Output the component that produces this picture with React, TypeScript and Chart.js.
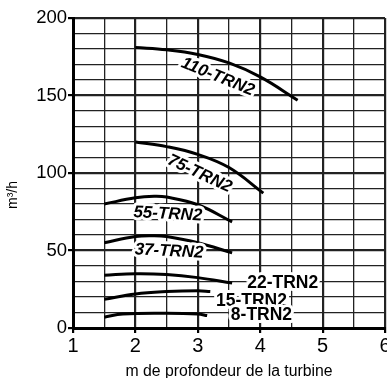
import { useEffect, useRef } from 'react';
import { Chart, registerables } from 'chart.js';

Chart.register(...registerables);

// ---- data ----
const xTickLabels = ['1', '2', '3', '4', '5', '6'];
const yTickLabels = ['0', '50', '100', '150', '200'];
const seriesNames = ['110-TRN2', '75-TRN2', '55-TRN2', '37-TRN2', '22-TRN2', '15-TRN2', '8-TRN2'];

const depth110 = [2, 2.5, 3, 3.5, 4, 4.6];
const flow110 = [181, 179.5, 176.5, 171, 162, 147];
const depth75 = [2, 2.5, 3, 3.5, 4.05];
const flow75 = [120, 117, 112, 103.5, 87];
const depth55 = [1.5, 2, 2.3, 2.5, 3, 3.55];
const flow55 = [80, 84, 85, 84.5, 79.5, 68.5];
const depth37 = [1.5, 2, 2.3, 2.5, 3, 3.55];
const flow37 = [55, 59, 59.5, 59, 55, 48.5];
const depth22 = [1.5, 2, 2.5, 3, 3.55];
const flow22 = [34, 35, 34.5, 32.5, 29];
const depth15 = [1.5, 2, 2.5, 3, 3.2];
const flow15 = [18.5, 22, 23.5, 24, 23.5];
const depth8 = [1.5, 1.8, 2.5, 3, 3.15];
const flow8 = [7, 9, 9.5, 9, 8];

const allDepths = [depth110, depth75, depth55, depth37, depth22, depth15, depth8];
const allFlows = [flow110, flow75, flow55, flow37, flow22, flow15, flow8];

// ---- label placement (data units) ----
const labelPlacement = [
  { x: 3.32, y: 162, angle: 22, italic: true },
  { x: 3.03, y: 99.5, angle: 25, italic: true },
  { x: 2.52, y: 73.5, angle: 3, italic: true },
  { x: 2.54, y: 49.5, angle: 3, italic: true },
  { x: 4.36, y: 29, angle: 0, italic: false },
  { x: 3.86, y: 17.4, angle: 0, italic: false },
  { x: 4.02, y: 8.4, angle: 0, italic: false },
];

const FONT = '"Liberation Sans", Arial, sans-serif';

const labelPlugin = {
  id: 'curveLabels',
  afterDatasetsDraw(chart: any) {
    const { ctx, scales } = chart;
    const xs = scales.x;
    const ys = scales.y;
    seriesNames.forEach((name, i) => {
      const p = labelPlacement[i];
      const px = xs.getPixelForValue(p.x);
      const py = ys.getPixelForValue(p.y);
      ctx.save();
      ctx.translate(px, py);
      ctx.rotate((p.angle * Math.PI) / 180);
      ctx.font = `${p.italic ? 'italic ' : ''}bold ${p.italic ? 17 : 17.5}px ${FONT}`;
      ctx.textAlign = 'center';
      ctx.textBaseline = 'middle';
      ctx.lineJoin = 'round';
      ctx.lineWidth = 6;
      ctx.strokeStyle = '#fff';
      ctx.strokeText(name, 0, 0);
      ctx.fillStyle = '#000';
      ctx.fillText(name, 0, 0);
      ctx.restore();
    });
  },
  afterDraw(chart: any) {
    const { ctx, chartArea } = chart;
    ctx.save();
    ctx.translate(13, (chartArea.top + chartArea.bottom) / 2 + 22);
    ctx.rotate(-Math.PI / 2);
    ctx.font = `14px ${FONT}`;
    ctx.textAlign = 'center';
    ctx.textBaseline = 'middle';
    ctx.fillStyle = '#000';
    ctx.fillText('m³/h', 0, 0);
    ctx.restore();
  },
};

export default function App() {
  const ref = useRef<HTMLCanvasElement>(null);
  useEffect(() => {
    document.body.style.margin = '0';
    const canvas = ref.current;
    if (!canvas) return;
    const datasets = seriesNames.map((name, i) => ({
      label: name,
      data: allDepths[i].map((d, j) => ({ x: d, y: allFlows[i][j] })),
      borderColor: '#000',
      borderWidth: 3,
      pointRadius: 0,
      tension: 0.4,
      fill: false,
    }));
    const isMajorX = (v: number) => Number.isInteger(v);
    const isMajorY = (v: number) => v % 50 === 0;
    const chart = new Chart(canvas, {
      type: 'line',
      data: { datasets },
      plugins: [labelPlugin],
      options: {
        animation: false,
        responsive: false,
        layout: { padding: { top: 18, right: 2, left: 0, bottom: 0 } },
        plugins: { legend: { display: false }, tooltip: { enabled: false } },
        scales: {
          x: {
            type: 'linear',
            min: 1,
            max: 6,
            ticks: {
              stepSize: 0.5,
              autoSkip: false,
              maxRotation: 0,
              color: '#000',
              font: { family: FONT, size: 20 },
              padding: 1,
              callback: (v: any) => (isMajorX(Number(v)) ? xTickLabels[Number(v) - 1] : ''),
            },
            grid: {
              color: '#222',
              lineWidth: (c: any) => (c.tick && isMajorX(c.tick.value) ? 2.2 : 1.3),
              tickColor: (c: any) => (c.tick && isMajorX(c.tick.value) ? '#000' : 'rgba(0,0,0,0)'),
              tickLength: 5,
            },
            border: { color: '#000', width: 3 },
            title: {
              display: true,
              text: 'm de profondeur de la turbine',
              color: '#000',
              font: { family: FONT, size: 15.8, lineHeight: 1 },
              padding: { top: 0, bottom: -2 },
            },
            afterFit: (s: any) => {
              s.height = 50;
              s.paddingRight = 0;
              s.paddingLeft = 0;
            },
          },
          y: {
            type: 'linear',
            min: 0,
            max: 200,
            ticks: {
              stepSize: 10,
              autoSkip: false,
              color: '#000',
              font: { family: FONT, size: 18.5 },
              padding: 1,
              callback: (v: any) => (isMajorY(Number(v)) ? yTickLabels[Number(v) / 50] : ''),
            },
            grid: {
              color: '#222',
              lineWidth: (c: any) => (c.tick && isMajorY(c.tick.value) ? 2.2 : 1.3),
              tickColor: (c: any) => (c.tick && isMajorY(c.tick.value) ? '#000' : 'rgba(0,0,0,0)'),
              tickLength: 5,
            },
            border: { color: '#000', width: 3 },
            afterFit: (s: any) => {
              s.width = 73;
              s.paddingTop = 0;
              s.paddingBottom = 0;
            },
          },
        },
      },
    });
    return () => chart.destroy();
  }, []);
  return <canvas ref={ref} width={387} height={378} style={{ display: 'block' }} />;
}
